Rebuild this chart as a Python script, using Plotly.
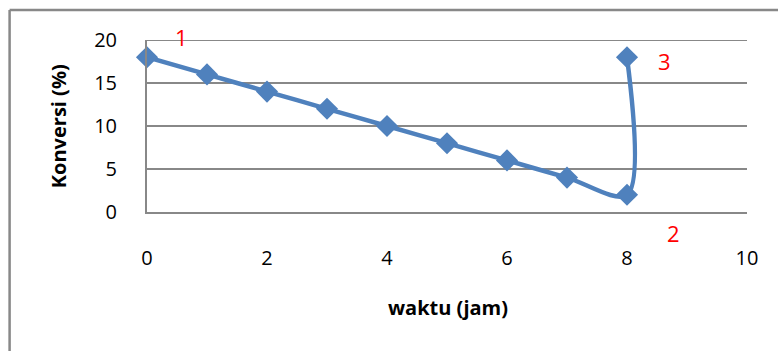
import plotly.graph_objects as go

# Conversion over time
waktu = [0, 1, 2, 3, 4, 5, 6, 7, 8, 8]
konversi = [18, 16, 14, 12, 10, 8, 6, 4, 2, 18]

# Point labels (data coordinates)
label_text = ["1", "2", "3"]
label_x = [0.57, 8.78, 8.63]
label_y = [20.3, -2.4, 17.6]

x_range = [0, 10]
y_range = [0, 20]
x_ticks = [0, 2, 4, 6, 8, 10]
y_ticks = [0, 5, 10, 15, 20]

BLUE = "#4F81BD"
GRID = "#888888"
FONT = "'Open Sans', sans-serif"

fig = go.Figure()
fig.add_trace(go.Scatter(
    x=waktu, y=konversi,
    mode="lines+markers",
    line=dict(color=BLUE, width=4.5, shape="spline", smoothing=0.9),
    marker=dict(symbol="diamond", size=17, color=BLUE),
    cliponaxis=False,
    showlegend=False,
))


def to_paper(v, rng):
    return (v - rng[0]) / (rng[1] - rng[0])


# red point labels, placed in paper space so they may sit outside the axes
for t, x, y in zip(label_text, label_x, label_y):
    fig.add_annotation(xref="paper", yref="paper",
                       x=to_paper(x, x_range), y=to_paper(y, y_range),
                       xanchor="center", yanchor="middle",
                       text=t, showarrow=False,
                       font=dict(family=FONT, size=22, color="#FF0000"))

# axis titles
fig.add_annotation(xref="paper", yref="paper", x=0.502, y=-0.558,
                   xanchor="center", yanchor="middle", text="<b>waktu (jam)</b>",
                   showarrow=False, font=dict(family=FONT, size=20, color="#000"))
fig.add_annotation(xref="paper", yref="paper", x=-0.148, y=0.5,
                   xanchor="center", yanchor="middle", text="<b>Konversi (%)</b>",
                   textangle=-90, showarrow=False, font=dict(family=FONT, size=20, color="#000"))

# top gridline at the axis maximum
fig.add_shape(type="line", xref="paper", yref="y", x0=0, x1=1, y0=y_range[1], y1=y_range[1],
              line=dict(color=GRID, width=2), layer="below")

# chart frame (left and top edges)
fig.add_shape(type="line", xref="paper", yref="paper", x0=-0.229, x1=-0.229, y0=1.174, y1=-0.82,
              line=dict(color=GRID, width=2.5))
fig.add_shape(type="line", xref="paper", yref="paper", x0=-0.229, x1=1.06, y0=1.174, y1=1.174,
              line=dict(color=GRID, width=2.5))

fig.update_xaxes(range=x_range, tickvals=x_ticks, showgrid=False, zeroline=False,
                 showline=True, linecolor=GRID, linewidth=2, ticks="", ticklabelstandoff=27,
                 tickfont=dict(family=FONT, size=20, color="#000"))
fig.update_yaxes(range=y_range, tickvals=y_ticks, showgrid=True, gridcolor=GRID, gridwidth=2,
                 zeroline=False, showline=True, linecolor=GRID, linewidth=2, ticks="",
                 ticklabelstandoff=24,
                 tickfont=dict(family=FONT, size=20, color="#000"))

fig.update_layout(width=778, height=351, margin=dict(l=147, r=31, t=40, b=139),
                  plot_bgcolor="white", paper_bgcolor="white")

fig.write_html("out.html")
